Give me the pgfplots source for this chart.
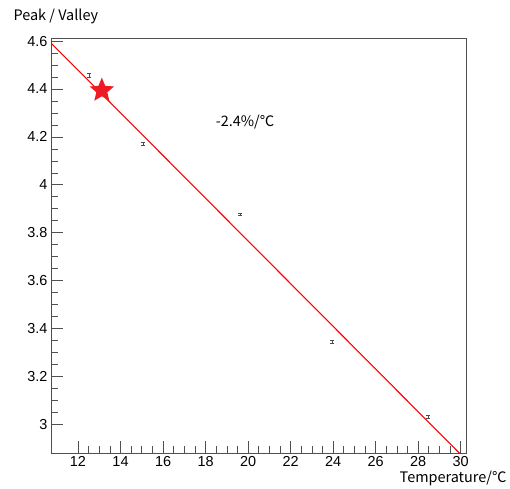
\documentclass[border=0pt]{standalone}
\usepackage{pgfplots}
\pgfplotsset{compat=1.18}
\usepackage{fontspec}
\setmainfont{Liberation Sans}
\newfontfamily\jp{Noto Sans CJK JP}
\definecolor{starred}{RGB}{237,28,36}
\definecolor{framegray}{RGB}{80,80,80}
\pgfdeclareplotmark{fstar}{%
  \pgfpathmoveto{\pgfpointpolar{90}{\pgfplotmarksize}}%
  \pgfpathlineto{\pgfpointpolar{126}{0.45\pgfplotmarksize}}%
  \pgfpathlineto{\pgfpointpolar{162}{\pgfplotmarksize}}%
  \pgfpathlineto{\pgfpointpolar{198}{0.45\pgfplotmarksize}}%
  \pgfpathlineto{\pgfpointpolar{234}{\pgfplotmarksize}}%
  \pgfpathlineto{\pgfpointpolar{270}{0.45\pgfplotmarksize}}%
  \pgfpathlineto{\pgfpointpolar{306}{\pgfplotmarksize}}%
  \pgfpathlineto{\pgfpointpolar{342}{0.45\pgfplotmarksize}}%
  \pgfpathlineto{\pgfpointpolar{18}{\pgfplotmarksize}}%
  \pgfpathlineto{\pgfpointpolar{54}{0.45\pgfplotmarksize}}%
  \pgfpathclose
  \pgfusepathqfill}
\begin{document}
\begin{tikzpicture}
\path[use as bounding box] (-51bp,-36bp) rectangle (459bp,453bp);
\begin{axis}[
  at={(0,0)}, anchor=south west,
  scale only axis, width=415bp, height=415bp,
  xmin=10.73, xmax=30.25, ymin=2.88, ymax=4.613,
  xtick={12,14,16,18,20,22,24,26,28,30},
  ytick={3,3.2,3.4,3.6,3.8,4,4.2,4.4,4.6},
  minor x tick num=3, minor y tick num=3,
  tick pos=left, tick align=inside,
  major tick length=12bp, minor tick length=6.5bp,
  tick style={framegray, line width=0.6pt},
  axis line style={framegray, line width=0.8pt},
  /pgf/number format/assume math mode=true,
  ticklabel style={font=\fontsize{14.5}{17}\selectfont, text=black},
  yticklabel style={/pgf/number format/fixed},
]
\addplot[red, line width=1.1pt] coordinates {(10.73,4.592) (30.0,2.874)};
\addplot[draw=none, mark=none,
  error bars/.cd, y dir=both, y explicit,
  error bar style={draw=black!70, line width=0.6pt},
  error mark=|,
  error mark options={draw=black!70, mark size=2bp, line width=0.6pt}]
  coordinates {
  (12.53,4.457) +- (0,0.0095)
  (15.07,4.170) +- (0,0.006)
  (19.62,3.877) +- (0,0.006)
  (23.95,3.345) +- (0,0.005)
  (28.46,3.031) +- (0,0.005)
  };
\addplot[only marks, mark=fstar, mark size=12.8bp, color=starred] coordinates {(13.12,4.394)};
\node[font=\jp\fontsize{14.5}{17}\selectfont] at (axis cs:19.86,4.263) {-2.4\%/℃};
\end{axis}
\node[anchor=west, font=\jp\fontsize{14.5}{17}\selectfont] at (-41bp,437bp) {Peak / Valley};
\node[anchor=east, font=\jp\fontsize{14.5}{17}\selectfont] at (459bp,-25bp) {Temperature/℃};
\end{tikzpicture}
\end{document}
